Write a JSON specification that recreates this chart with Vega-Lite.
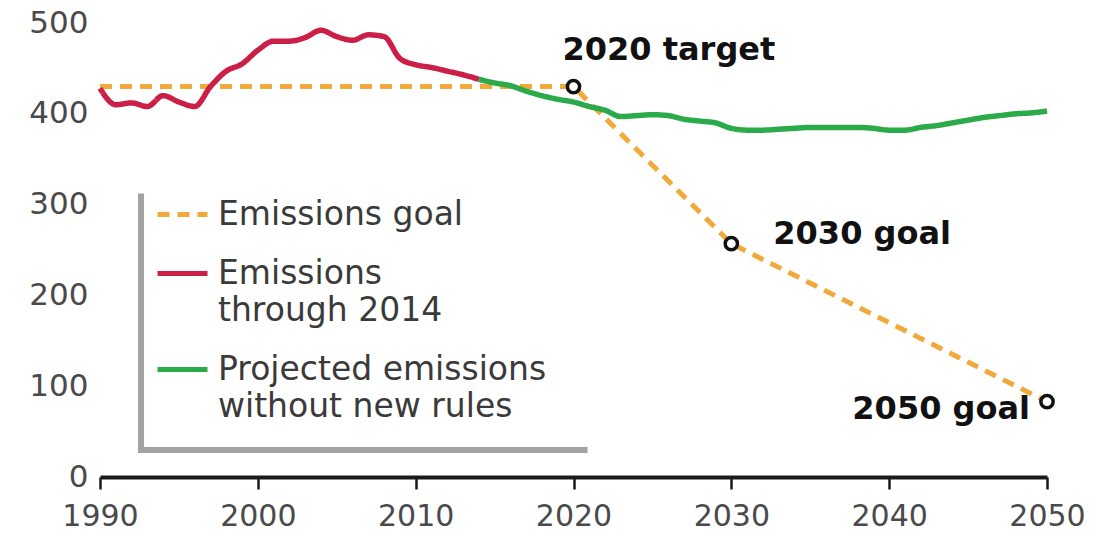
{
  "$schema": "https://vega.github.io/schema/vega-lite/v6.json",
  "width": 947,
  "height": 454,
  "autosize": {"type": "none"},
  "padding": {"left": 100, "top": 23, "right": 52, "bottom": 63},
  "background": "white",
  "config": {"view": {"stroke": null}, "font": "DejaVu Sans"},
  "datasets": {
    "series": [
      {"year": 1990, "value": 430, "series": "Emissions goal"},
      {"year": 2020, "value": 430, "series": "Emissions goal"},
      {"year": 2030, "value": 257, "series": "Emissions goal"},
      {"year": 2050, "value": 83, "series": "Emissions goal"},
      {"year": 1990, "value": 428, "series": "Emissions through 2014"},
      {"year": 1991, "value": 410, "series": "Emissions through 2014"},
      {"year": 1992, "value": 412, "series": "Emissions through 2014"},
      {"year": 1993, "value": 408, "series": "Emissions through 2014"},
      {"year": 1994, "value": 420, "series": "Emissions through 2014"},
      {"year": 1995, "value": 413, "series": "Emissions through 2014"},
      {"year": 1996, "value": 408, "series": "Emissions through 2014"},
      {"year": 1997, "value": 430, "series": "Emissions through 2014"},
      {"year": 1998, "value": 447, "series": "Emissions through 2014"},
      {"year": 1999, "value": 455, "series": "Emissions through 2014"},
      {"year": 2000, "value": 470, "series": "Emissions through 2014"},
      {"year": 2001, "value": 480, "series": "Emissions through 2014"},
      {"year": 2002, "value": 480, "series": "Emissions through 2014"},
      {"year": 2003, "value": 484, "series": "Emissions through 2014"},
      {"year": 2004, "value": 492, "series": "Emissions through 2014"},
      {"year": 2005, "value": 485, "series": "Emissions through 2014"},
      {"year": 2006, "value": 481, "series": "Emissions through 2014"},
      {"year": 2007, "value": 487, "series": "Emissions through 2014"},
      {"year": 2008, "value": 485, "series": "Emissions through 2014"},
      {"year": 2009, "value": 461, "series": "Emissions through 2014"},
      {"year": 2010, "value": 454, "series": "Emissions through 2014"},
      {"year": 2011, "value": 451, "series": "Emissions through 2014"},
      {"year": 2012, "value": 447, "series": "Emissions through 2014"},
      {"year": 2013, "value": 443, "series": "Emissions through 2014"},
      {"year": 2014, "value": 438, "series": "Emissions through 2014"},
      {"year": 2014, "value": 438, "series": "Projected emissions without new rules"},
      {"year": 2015, "value": 434, "series": "Projected emissions without new rules"},
      {"year": 2016, "value": 431, "series": "Projected emissions without new rules"},
      {"year": 2017, "value": 425, "series": "Projected emissions without new rules"},
      {"year": 2018, "value": 420, "series": "Projected emissions without new rules"},
      {"year": 2019, "value": 416, "series": "Projected emissions without new rules"},
      {"year": 2020, "value": 413, "series": "Projected emissions without new rules"},
      {"year": 2021, "value": 408, "series": "Projected emissions without new rules"},
      {"year": 2022, "value": 404, "series": "Projected emissions without new rules"},
      {"year": 2023, "value": 397, "series": "Projected emissions without new rules"},
      {"year": 2024, "value": 398, "series": "Projected emissions without new rules"},
      {"year": 2025, "value": 399, "series": "Projected emissions without new rules"},
      {"year": 2026, "value": 398, "series": "Projected emissions without new rules"},
      {"year": 2027, "value": 394, "series": "Projected emissions without new rules"},
      {"year": 2028, "value": 392, "series": "Projected emissions without new rules"},
      {"year": 2029, "value": 390, "series": "Projected emissions without new rules"},
      {"year": 2030, "value": 384, "series": "Projected emissions without new rules"},
      {"year": 2031, "value": 382, "series": "Projected emissions without new rules"},
      {"year": 2032, "value": 382, "series": "Projected emissions without new rules"},
      {"year": 2033, "value": 383, "series": "Projected emissions without new rules"},
      {"year": 2034, "value": 384, "series": "Projected emissions without new rules"},
      {"year": 2035, "value": 385, "series": "Projected emissions without new rules"},
      {"year": 2036, "value": 385, "series": "Projected emissions without new rules"},
      {"year": 2037, "value": 385, "series": "Projected emissions without new rules"},
      {"year": 2038, "value": 385, "series": "Projected emissions without new rules"},
      {"year": 2039, "value": 384, "series": "Projected emissions without new rules"},
      {"year": 2040, "value": 382, "series": "Projected emissions without new rules"},
      {"year": 2041, "value": 382, "series": "Projected emissions without new rules"},
      {"year": 2042, "value": 385, "series": "Projected emissions without new rules"},
      {"year": 2043, "value": 387, "series": "Projected emissions without new rules"},
      {"year": 2044, "value": 390, "series": "Projected emissions without new rules"},
      {"year": 2045, "value": 393, "series": "Projected emissions without new rules"},
      {"year": 2046, "value": 396, "series": "Projected emissions without new rules"},
      {"year": 2047, "value": 398, "series": "Projected emissions without new rules"},
      {"year": 2048, "value": 400, "series": "Projected emissions without new rules"},
      {"year": 2049, "value": 401, "series": "Projected emissions without new rules"},
      {"year": 2050, "value": 403, "series": "Projected emissions without new rules"}
    ],
    "notes": [
      {"year": 2020, "value": 430, "label": "2020 target"},
      {"year": 2030, "value": 257, "label": "2030 goal"},
      {"year": 2050, "value": 83, "label": "2050 goal"}
    ]
  },
  "layer": [
    {
      "data": {"values": [{}]},
      "mark": {"type": "rect", "color": "white"},
      "encoding": {
        "x": {"datum": 1992.6, "type": "quantitative", "scale": {"domain": [1990, 2050], "nice": false, "zero": false}},
        "x2": {"datum": 2020.7},
        "y": {"datum": 29.7, "type": "quantitative", "scale": {"domain": [0, 500], "nice": false}},
        "y2": {"datum": 310.6}
      }
    },
    {
      "data": {"name": "series"},
      "transform": [{"filter": "datum.series == 'Emissions goal'"}],
      "mark": {"type": "line", "strokeWidth": 5, "interpolate": "linear"},
      "encoding": {
        "x": {
          "field": "year", "type": "quantitative",
          "scale": {"domain": [1990, 2050], "nice": false, "zero": false},
          "axis": {
            "title": null, "values": [1990, 2000, 2010, 2020, 2030, 2040, 2050], "format": "d",
            "grid": false, "domainColor": "#1a1a1a", "domainWidth": 4, "tickColor": "#1a1a1a",
            "tickWidth": 2.5, "tickSize": 12, "labelFontSize": 30, "labelColor": "#4a4a4a",
            "labelPadding": 12, "labelFont": "DejaVu Sans", "labelFlush": false, "labelOverlap": false
          }
        },
        "y": {
          "field": "value", "type": "quantitative",
          "scale": {"domain": [0, 500], "nice": false},
          "axis": {
            "title": null, "values": [0, 50, 100, 150, 200, 250, 300, 350, 400, 450, 500],
            "labelExpr": "datum.value % 100 == 0 ? datum.label : ''",
            "domain": false, "ticks": false, "gridColor": "#cdcdcd", "gridWidth": 2,
            "labelFontSize": 31, "labelColor": "#4a4a4a", "labelPadding": 12, "labelFont": "DejaVu Sans",
            "labelFlush": false, "labelOverlap": false
          }
        },
        "color": {
          "field": "series", "type": "nominal",
          "scale": {
            "domain": ["Emissions goal", "Emissions through 2014", "Projected emissions without new rules"],
            "range": ["#F2A93B", "#CC1F47", "#2BAA4A"]
          },
          "legend": {
            "title": null, "orient": "none", "legendX": 55, "legendY": 164,
            "symbolType": "stroke", "symbolSize": 2500, "symbolStrokeWidth": 5,
            "labelFontSize": 33, "labelFont": "DejaVu Sans", "labelColor": "#3a3a3a",
            "labelOffset": 8, "labelLimit": 0, "rowPadding": 14, "padding": 0,
            "labelExpr": "datum.label == 'Emissions through 2014' ? ['Emissions', 'through 2014'] : datum.label == 'Projected emissions without new rules' ? ['Projected emissions', 'without new rules'] : datum.label",
            "encode": {"labels": {"update": {"lineHeight": {"value": 37}}}}
          }
        },
        "strokeDash": {
          "field": "series", "type": "nominal",
          "scale": {
            "domain": ["Emissions goal", "Emissions through 2014", "Projected emissions without new rules"],
            "range": [[12, 8], [1, 0], [1, 0]]
          },
          "legend": null
        }
      }
    },
    {
      "data": {"name": "series"},
      "transform": [{"filter": "datum.series != 'Emissions goal'"}],
      "mark": {"type": "line", "strokeWidth": 5.5, "interpolate": "monotone"},
      "encoding": {
        "x": {"field": "year", "type": "quantitative"},
        "y": {"field": "value", "type": "quantitative"},
        "color": {"field": "series", "type": "nominal"},
        "strokeDash": {"field": "series", "type": "nominal", "legend": null}
      }
    },
    {
      "data": {"values": [{}]},
      "mark": {"type": "rule", "color": "#a3a3a3", "strokeWidth": 6, "strokeCap": "square"},
      "encoding": {
        "x": {"datum": 1992.6, "type": "quantitative"},
        "y": {"datum": 29.7, "type": "quantitative"},
        "y2": {"datum": 309}
      }
    },
    {
      "data": {"values": [{}]},
      "mark": {"type": "rule", "color": "#a3a3a3", "strokeWidth": 6, "strokeCap": "square"},
      "encoding": {
        "x": {"datum": 1992.6, "type": "quantitative"},
        "x2": {"datum": 2020.7},
        "y": {"datum": 29.7, "type": "quantitative"}
      }
    },
    {
      "data": {"name": "notes"},
      "mark": {"type": "circle", "fill": "white", "stroke": "#111111", "strokeWidth": 3.5, "size": 150, "opacity": 1, "fillOpacity": 1},
      "encoding": {
        "x": {"field": "year", "type": "quantitative"},
        "y": {"field": "value", "type": "quantitative"}
      }
    },
    {
      "data": {"name": "notes"},
      "transform": [{"filter": "datum.year == 2020"}],
      "mark": {"type": "text", "align": "left", "baseline": "middle", "dx": -11, "dy": -37, "fontSize": 32, "fontWeight": "bold", "font": "DejaVu Sans", "color": "#111111"},
      "encoding": {
        "x": {"field": "year", "type": "quantitative"},
        "y": {"field": "value", "type": "quantitative"},
        "text": {"field": "label"}
      }
    },
    {
      "data": {"name": "notes"},
      "transform": [{"filter": "datum.year == 2030"}],
      "mark": {"type": "text", "align": "left", "baseline": "middle", "dx": 42, "dy": -10, "fontSize": 32, "fontWeight": "bold", "font": "DejaVu Sans", "color": "#111111"},
      "encoding": {
        "x": {"field": "year", "type": "quantitative"},
        "y": {"field": "value", "type": "quantitative"},
        "text": {"field": "label"}
      }
    },
    {
      "data": {"name": "notes"},
      "transform": [{"filter": "datum.year == 2050"}],
      "mark": {"type": "text", "align": "right", "baseline": "middle", "dx": -17, "dy": 7, "fontSize": 32, "fontWeight": "bold", "font": "DejaVu Sans", "color": "#111111"},
      "encoding": {
        "x": {"field": "year", "type": "quantitative"},
        "y": {"field": "value", "type": "quantitative"},
        "text": {"field": "label"}
      }
    }
  ]
}
